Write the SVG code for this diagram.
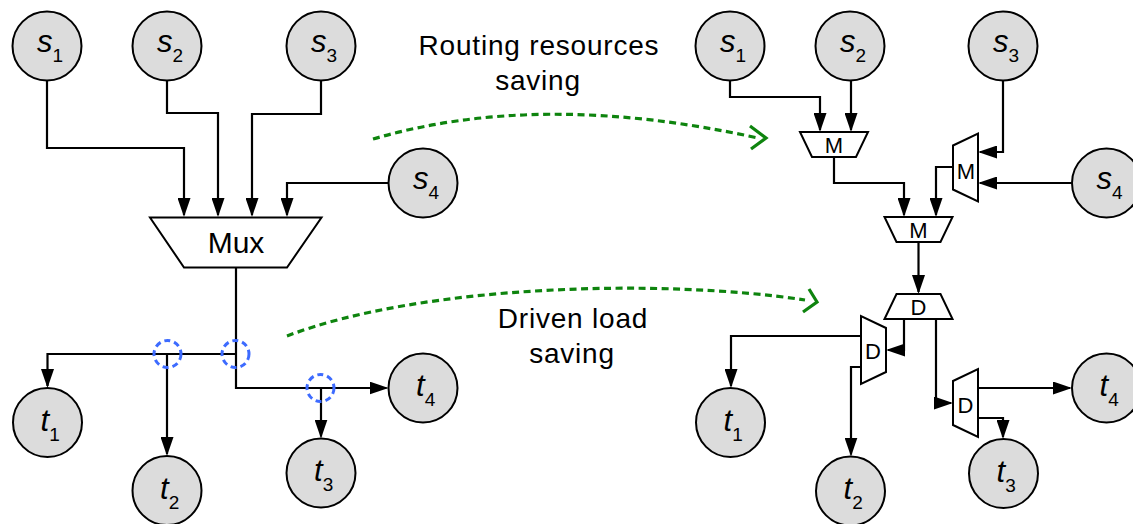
<svg xmlns="http://www.w3.org/2000/svg" width="1133" height="524" viewBox="0 0 1133 524">
<style>
.nd{fill:#dcdcdc;stroke:#000;stroke-width:2}
.lbl{font-family:"Liberation Sans",Arial,sans-serif;font-size:31px;font-style:italic;fill:#000}
.sub{font-style:normal;font-size:19px}
.blk{fill:#fff;stroke:#000;stroke-width:2;stroke-linejoin:miter}
.bt{font-family:"Liberation Sans",Arial,sans-serif;font-size:22px;fill:#000;text-anchor:middle}
.mux{font-family:"Liberation Sans",Arial,sans-serif;font-size:30px;fill:#000;text-anchor:middle}
.cap{font-family:"Liberation Sans",Arial,sans-serif;font-size:28px;letter-spacing:0.8px;fill:#000;text-anchor:middle}
.w{fill:none;stroke:#000;stroke-width:2.2}
.a{marker-end:url(#ah)}
.g{fill:none;stroke:#0e840e;stroke-width:3.2;stroke-dasharray:7 4.5}
.gc{fill:none;stroke:#0e840e;stroke-width:3.2}
.bl{fill:none;stroke:#3d6bff;stroke-width:3;stroke-dasharray:6 4}
</style>
<defs>
<marker id="ah" markerUnits="userSpaceOnUse" markerWidth="19" markerHeight="13" refX="17" refY="6.5" orient="auto">
<path d="M0,0 L19,6.5 L0,13 z" fill="#000"/>
</marker>
</defs>

<g id="connectors">
<!-- left -->
<path class="w a" d="M47,80.5 V148 H184 V215"/>
<path class="w a" d="M167,80.5 V113 H218 V215"/>
<path class="w a" d="M321,80.5 V114 H252 V215"/>
<path class="w a" d="M388.5,183 H287 V215"/>
<path class="w a" d="M236,267 V388 H386.5"/>
<path class="w a" d="M236,354 H47.5 V386"/>
<path class="w a" d="M167,354 V454"/>
<path class="w a" d="M321,388 V436.5"/>
<!-- right -->
<path class="w a" d="M730,80.5 V97 H820 V130"/>
<path class="w a" d="M851,80.5 V130"/>
<path class="w a" d="M1003,80.5 V152 H980"/>
<path class="w a" d="M1072,183 H980"/>
<path class="w a" d="M834,157 V183 H904 V215"/>
<path class="w a" d="M953,167 H936 V215"/>
<path class="w a" d="M918.5,242 V292"/>
<path class="w a" d="M904,319 V350 H888"/>
<path class="w a" d="M936,319 V403 H951"/>
<path class="w a" d="M861,336 H731 V386"/>
<path class="w a" d="M861,367 H851 V454.5"/>
<path class="w a" d="M978,388 H1070"/>
<path class="w a" d="M978,418 H1003 V437"/>
</g>

<g id="mux">
<polygon class="blk" points="150,217.5 321.5,217.5 287,267.5 184,267.5"/>
<text class="mux" x="236" y="253">Mux</text>
</g>

<g id="L-s1"><circle class="nd" cx="47" cy="46" r="34.5"/><text class="lbl" x="37" y="52">s<tspan class="sub" dy="10">1</tspan></text></g>
<g id="L-s2"><circle class="nd" cx="167" cy="46" r="34.5"/><text class="lbl" x="157" y="52">s<tspan class="sub" dy="10">2</tspan></text></g>
<g id="L-s3"><circle class="nd" cx="321" cy="46" r="34.5"/><text class="lbl" x="311" y="52">s<tspan class="sub" dy="10">3</tspan></text></g>
<g id="L-s4"><circle class="nd" cx="423" cy="183" r="34.5"/><text class="lbl" x="413" y="189">s<tspan class="sub" dy="10">4</tspan></text></g>
<g id="L-t1"><circle class="nd" cx="47.5" cy="422.5" r="34.5"/><text class="lbl" x="40.5" y="430.5">t<tspan class="sub" dy="10">1</tspan></text></g>
<g id="L-t2"><circle class="nd" cx="167" cy="490.5" r="34.5"/><text class="lbl" x="160" y="498.5">t<tspan class="sub" dy="10">2</tspan></text></g>
<g id="L-t3"><circle class="nd" cx="321" cy="473" r="34.5"/><text class="lbl" x="314" y="481">t<tspan class="sub" dy="10">3</tspan></text></g>
<g id="L-t4"><circle class="nd" cx="423" cy="388" r="34.5"/><text class="lbl" x="416" y="396">t<tspan class="sub" dy="10">4</tspan></text></g>

<g id="savings-marks">
<circle class="bl" cx="167.5" cy="354" r="13.5"/>
<circle class="bl" cx="235.5" cy="354" r="13.5"/>
<circle class="bl" cx="320.5" cy="388" r="13.5"/>
</g>

<g id="transform-arrows">
<path class="g" d="M373,139 Q540,90 758,138"/>
<polyline class="gc" points="750,126 766,138 751,149"/>
<path class="g" d="M287,336 C420,285 660,278 805,300"/>
<polyline class="gc" points="809,289 817,302 803,312"/>
</g>

<g id="caption-routing">
<text class="cap" x="539" y="55">Routing resources</text>
<text class="cap" x="538" y="90">saving</text>
</g>
<g id="caption-load">
<text class="cap" x="573" y="328">Driven load</text>
<text class="cap" x="572" y="363">saving</text>
</g>

<g id="M1"><polygon class="blk" points="800,132 868,132 856,157 812,157"/><text class="bt" x="834" y="152.5">M</text></g>
<g id="M2"><polygon class="blk" points="953,145.5 978,133.5 978,201.5 953,189.5"/><text class="bt" x="966" y="178.5">M</text></g>
<g id="M3"><polygon class="blk" points="884.5,217 952.5,217 940.5,242 896.5,242"/><text class="bt" x="918.5" y="237.5">M</text></g>
<g id="D1"><polygon class="blk" points="896.5,294 940.5,294 952.5,319 884.5,319"/><text class="bt" x="918.5" y="314.5">D</text></g>
<g id="D2"><polygon class="blk" points="886,328 886,372 861,384 861,316"/><text class="bt" x="873" y="358.5">D</text></g>
<g id="D3"><polygon class="blk" points="953,381 978,369 978,437 953,425"/><text class="bt" x="965.5" y="412.5">D</text></g>

<g id="R-s1"><circle class="nd" cx="730" cy="46" r="34.5"/><text class="lbl" x="720" y="52">s<tspan class="sub" dy="10">1</tspan></text></g>
<g id="R-s2"><circle class="nd" cx="850" cy="46" r="34.5"/><text class="lbl" x="840" y="52">s<tspan class="sub" dy="10">2</tspan></text></g>
<g id="R-s3"><circle class="nd" cx="1003" cy="46" r="34.5"/><text class="lbl" x="993" y="52">s<tspan class="sub" dy="10">3</tspan></text></g>
<g id="R-s4"><circle class="nd" cx="1106.5" cy="183" r="34.5"/><text class="lbl" x="1096.5" y="189">s<tspan class="sub" dy="10">4</tspan></text></g>
<g id="R-t1"><circle class="nd" cx="730.5" cy="422.5" r="34.5"/><text class="lbl" x="723.5" y="430.5">t<tspan class="sub" dy="10">1</tspan></text></g>
<g id="R-t2"><circle class="nd" cx="850.5" cy="491" r="34.5"/><text class="lbl" x="843.5" y="499">t<tspan class="sub" dy="10">2</tspan></text></g>
<g id="R-t3"><circle class="nd" cx="1003.5" cy="473.5" r="34.5"/><text class="lbl" x="996.5" y="481.5">t<tspan class="sub" dy="10">3</tspan></text></g>
<g id="R-t4"><circle class="nd" cx="1106.5" cy="388" r="34.5"/><text class="lbl" x="1099.5" y="396">t<tspan class="sub" dy="10">4</tspan></text></g>
</svg>
